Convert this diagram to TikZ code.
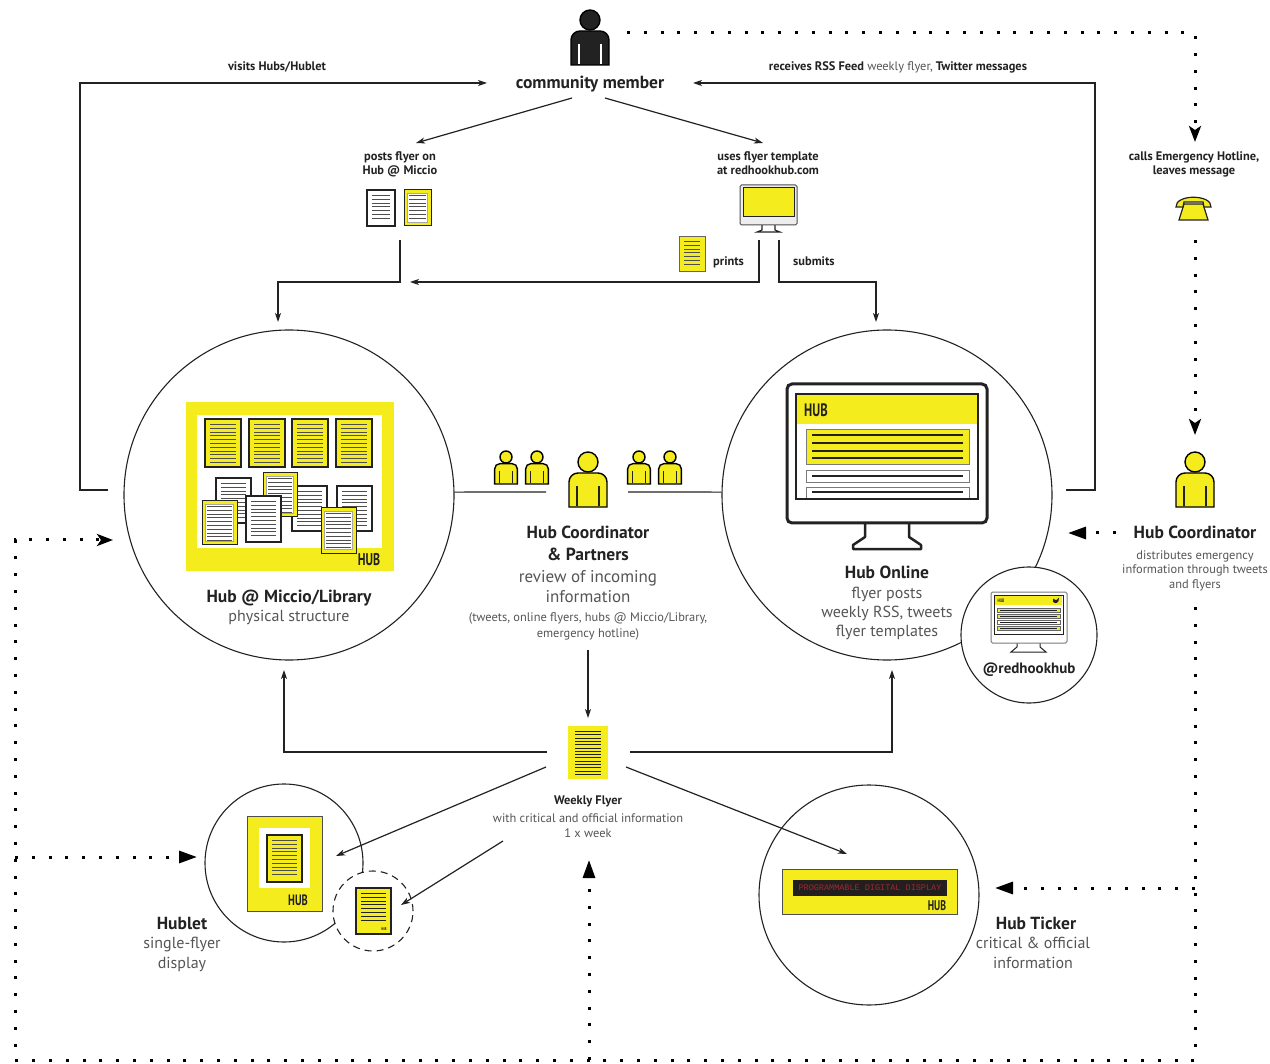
\documentclass[tikz,border=0pt]{standalone}
\usepackage{fontspec}
\setmainfont{PT Sans}
\setmonofont{Liberation Mono}
\newfontfamily\hubfont[FakeStretch=0.7]{PT Sans}
\usetikzlibrary{arrows.meta,calc}

\definecolor{hubyellow}{HTML}{F5EC1E}
\definecolor{ink}{HTML}{222222}
\definecolor{soft}{HTML}{555555}
\definecolor{lcdred}{HTML}{A02A2A}
\definecolor{lcdbg}{HTML}{231F20}

% text lines of a flyer
\newcommand{\flyerlines}[6]{%
  \pgfmathsetmacro{\fa}{#2+5.5}%
  \pgfmathsetmacro{\fb}{#2+9.3}%
  \pgfmathsetmacro{\fc}{#4-4}%
  \foreach \fy in {\fa,\fb,...,\fc}{\draw[#5,line width=#6] ({#1+5},\fy) -- ({#3-5},\fy);}%
}
% flyer with a plain frame: x1 y1 x2 y2 fill framewidth
\newcommand{\plainflyer}[6]{%
  \filldraw[fill=#5, draw=ink, line width=#6] (#1,#2) rectangle (#3,#4);
  \flyerlines{#1}{#2}{#3}{#4}{ink!80}{1pt}}
% flyer with a yellow margin round a white page
\newcommand{\framedflyer}[4]{%
  \filldraw[fill=hubyellow, draw=ink, line width=1pt] (#1,#2) rectangle (#3,#4);
  \filldraw[fill=white, draw=ink!40, line width=0.4pt] ({#1+3.5},{#2+3.5}) rectangle ({#3-3.5},{#4-3.5});
  \flyerlines{#1}{#2}{#3}{#4}{ink!80}{1pt}}

\tikzset{
  lbl/.style={inner sep=0pt, anchor=base, text=ink},
  headtxt/.style={lbl, font=\fontsize{17.5}{20}\selectfont\bfseries},
  subtxt/.style={lbl, text=soft, font=\fontsize{16}{19}\selectfont},
  notetxt/.style={lbl, text=soft, font=\fontsize{12.4}{14}\selectfont},
  cuetxt/.style={lbl, font=\fontsize{12.4}{14}\selectfont\bfseries},
  hubmark/.style={inner sep=0pt, text=ink, font=\hubfont\bfseries\fontsize{#1}{#1}\selectfont},
  hubcircle/.style={circle, draw=ink, line width=1.1pt, inner sep=0pt},
  flow/.style={draw=ink, line width=1.2pt, -{Stealth[length=9pt,width=6pt,inset=2.5pt]}},
  wire/.style={draw=ink, line width=1.2pt},
  dots/.style={draw=black, line width=3pt, dash pattern=on 3pt off 13.8pt},
  dothead/.style={-{Stealth[length=16pt,width=12pt,inset=4pt]}},
  dottri/.style={-{Triangle[length=18pt,width=12pt]}},
  pics/person/.style n args={2}{code={
    \draw[line width=1.4pt, fill=#1] (0,0) circle[radius=10];
    \draw[line width=1.4pt, fill=#1] (-19,45) -- (-19,20)
      .. controls (-19,15) and (-15,11) .. (-10,11) -- (10,11)
      .. controls (15,11) and (19,15) .. (19,20) -- (19,45) -- cycle;
    \draw[line width=1.2pt, draw=#2] (-11,24) -- (-11,44) (11,24) -- (11,44);
  }},
}

\begin{document}
\begin{tikzpicture}[x=1pt,y=-1pt]
\useasboundingbox[fill=white] (0,0) rectangle (1270,1064);

% ---------- main circles ----------
\node[hubcircle, minimum size=330pt] (miccio) at (289,495) {};
\node[hubcircle, minimum size=330pt] (online) at (887,495) {};
\node[hubcircle, minimum size=136pt, fill=white] (twitter) at (1029,635) {};
\node[hubcircle, minimum size=158pt] (hublet) at (284,863) {};
\node[hubcircle, dash pattern=on 7pt off 5pt, minimum size=80pt, fill=white] (mini) at (373,911) {};
\node[hubcircle, minimum size=220pt] (ticker) at (869,895) {};

% ---------- community member ----------
\pic at (590,20) {person={ink}{white}};
\node[headtxt] (member) at (590,89) {community member};

% ---------- posting a flyer ----------
\node[cuetxt] (posts1) at (400,161) {posts flyer on};
\node[cuetxt] (posts2) at (400,175) {Hub @ Miccio};
\plainflyer{367}{190}{395}{226}{white}{1.2pt}
\framedflyer{404}{190}{431}{226}

\node[cuetxt] (uses1) at (768,161) {uses flyer template};
\node[cuetxt] (uses2) at (768,175) {at redhookhub.com};
% desktop computer
\filldraw[fill=white, draw=ink, line width=1.1pt] (762,225) -- (762,230) -- (757,232) -- (780,232) -- (775,230) -- (775,225);
\filldraw[fill=ink!8, draw=ink!80, line width=1pt, rounded corners=1.5pt] (740,185) rectangle (797,225);
\filldraw[fill=hubyellow, draw=ink, line width=1pt] (743,188) rectangle (794,217);
% printed flyer
\filldraw[fill=hubyellow, draw=ink!70, line width=0.8pt] (679,236) rectangle (705,271);
\flyerlines{679}{236}{705}{271}{ink!80}{1pt}
\node[cuetxt, anchor=base west] (prints) at (713,266) {prints};
\node[cuetxt, anchor=base west] (submits) at (793,266) {submits};

% ---------- hotline ----------
\node[cuetxt] (calls1) at (1194,161) {calls Emergency Hotline,};
\node[cuetxt] (calls2) at (1194,175) {leaves message};
\filldraw[fill=hubyellow, draw=ink, line width=1.2pt] (1184,204) -- (1203,204) -- (1208,220) -- (1179,220) -- cycle;
\filldraw[fill=hubyellow, draw=ink, line width=1.2pt] (1176,207) .. controls (1175,194) and (1212,194) .. (1211,207) -- (1204,207) -- (1203,202) -- (1184,202) -- (1183,207) -- cycle;

% ---------- Hub @ Miccio/Library ----------
\fill[hubyellow] (186,402) rectangle (394,571);
\fill[white] (197,415) rectangle (382,548);
\plainflyer{205}{419}{241}{467}{hubyellow}{2.2pt}
\plainflyer{249}{419}{285}{467}{hubyellow}{2.2pt}
\plainflyer{292}{419}{328}{467}{hubyellow}{2.2pt}
\plainflyer{336}{419}{372}{467}{hubyellow}{2.2pt}
\plainflyer{216}{478}{251}{523}{white}{2pt}
\plainflyer{337}{486}{372}{531}{white}{2pt}
\plainflyer{292}{486}{327}{531}{white}{2pt}
\framedflyer{263}{473}{297}{517}
\plainflyer{246}{496}{281}{542}{white}{2pt}
\framedflyer{202}{501}{237}{545}
\framedflyer{321}{508}{356}{553}
\node[hubmark=17] (boardhub) at (369,560) {HUB};
\node[headtxt] (miccio1) at (289,602) {Hub @ Miccio/Library};
\node[subtxt] (miccio2) at (289,621) {physical structure};

% ---------- Hub Online ----------
\filldraw[fill=white, draw=ink, line width=2.5pt, line join=round] (865,522) -- (865,537) -- (853,545) -- (853,549) -- (921,549) -- (921,545) -- (909,537) -- (909,522);
\filldraw[fill=white, draw=ink, line width=3pt, rounded corners=5pt] (787,384) rectangle (987,523);
\filldraw[fill=white, draw=ink, line width=2pt] (796,394) rectangle (978,499);
\fill[hubyellow] (797,395) rectangle (977,424);
\node[hubmark=18] (screenhub) at (816,410) {HUB};
\filldraw[fill=hubyellow, draw=ink!60, line width=0.8pt] (806,429) rectangle (969,464);
\foreach \ly in {435,443,451,458}{\draw[ink, line width=2pt] (812,\ly) -- (963,\ly);}
\draw[ink!60, line width=0.8pt] (806,470) rectangle (969,482);
\draw[ink, line width=2pt] (812,476) -- (963,476);
\draw[ink!60, line width=0.8pt] (806,487) -- (806,498) (969,487) -- (969,498) (806,487) -- (969,487);
\draw[ink, line width=2pt] (812,492) -- (963,492);
\draw[ink, line width=2pt] (796,499) -- (978,499);
\node[headtxt] (online1) at (887,579) {Hub Online};
\node[subtxt] (online2) at (887,598) {flyer posts};
\node[subtxt] (online3) at (887,617) {weekly RSS, tweets};
\node[subtxt] (online4) at (887,636) {flyer templates};

% ---------- @redhookhub ----------
\filldraw[fill=white, draw=ink, line width=1pt] (1017,642) -- (1017,647) -- (1011,652) -- (1046,652) -- (1040,647) -- (1040,642);
\filldraw[fill=white, draw=ink!60, line width=1pt, rounded corners=1.5pt] (991,592) rectangle (1067,643);
\filldraw[fill=white, draw=ink, line width=0.9pt] (994,595) rectangle (1063,634);
\fill[hubyellow] (995,596) rectangle (1062,605);
\node[hubmark=5] (tinyhub) at (1001,600.5) {HUB};
\fill[ink] (1053,598.5) .. controls (1056,601) and (1058,600) .. (1059,597.5) -- (1058.5,601) .. controls (1057,604) and (1054,603.5) .. (1053,602) -- cycle;
\foreach \ry/\rc in {608/hubyellow,614/hubyellow,620/white,626/hubyellow}{
  \filldraw[fill=\rc, draw=ink!70, line width=0.5pt] (997,\ry) rectangle (1060,{\ry+4.5});
  \draw[ink, line width=0.9pt] (1000,{\ry+2.25}) -- (1057,{\ry+2.25});
}
\node[lbl, font=\fontsize{15}{18}\selectfont\bfseries] (handle) at (1029,673) {@redhookhub};

% ---------- Hub Coordinator & Partners ----------
\pic at (588,462) {person={hubyellow}{ink}};
\pic[scale=0.6] at (506,457) {person={hubyellow}{ink}};
\pic[scale=0.6] at (537,457) {person={hubyellow}{ink}};
\pic[scale=0.6] at (639,457) {person={hubyellow}{ink}};
\pic[scale=0.6] at (670,457) {person={hubyellow}{ink}};
\node[headtxt] (coord1) at (588,539) {Hub Coordinator};
\node[headtxt] (coord2) at (588,560) {\& Partners};
\node[lbl, text=soft, font=\fontsize{17}{20}\selectfont] (coord3) at (588,582) {review of incoming};
\node[lbl, text=soft, font=\fontsize{17}{20}\selectfont] (coord4) at (588,602) {information};
\node[notetxt] (coord5) at (588,621) {(tweets, online flyers, hubs @ Miccio/Library,};
\node[notetxt] (coord6) at (588,637) {emergency hotline)};

% ---------- Hub Coordinator (emergency) ----------
\pic at (1195,462) {person={hubyellow}{ink}};
\node[headtxt] (emerg1) at (1195,539) {Hub Coordinator};
\node[notetxt] (emerg2) at (1195,559) {distributes emergency};
\node[notetxt] (emerg3) at (1195,573.5) {information through tweets};
\node[notetxt] (emerg4) at (1195,588) {and flyers};

% ---------- Weekly Flyer ----------
\fill[hubyellow] (568,726) rectangle (608,779);
\foreach \ly in {731.5,734.8,...,775}{\draw[ink, line width=1pt] (575,\ly) -- (601,\ly);}
\node[cuetxt] (weekly1) at (588,804) {Weekly Flyer};
\node[notetxt] (weekly2) at (588,822) {with critical and official information};
\node[notetxt] (weekly3) at (588,837) {1 x week};

% ---------- Hublet ----------
\filldraw[fill=hubyellow, draw=ink!80, line width=1pt] (247,816) rectangle (322,911);
\fill[white] (259,828) rectangle (310,888);
\plainflyer{267}{835}{302}{882}{hubyellow}{2.5pt}
\node[hubmark=15] (hublethub) at (298,900) {HUB};
\filldraw[fill=hubyellow, draw=ink, line width=1.2pt] (356,888) rectangle (391,934);
\flyerlines{356}{888}{391}{926}{ink}{0.9pt}
\node[hubmark=4] (minihub) at (384,929.5) {HUB};
\node[headtxt] (hublet1) at (182,929) {Hublet};
\node[subtxt] (hublet2) at (182,948) {single-flyer};
\node[subtxt] (hublet3) at (182,968) {display};

% ---------- Hub Ticker ----------
\filldraw[fill=hubyellow, draw=ink!80, line width=1pt] (782,869) rectangle (957,914);
\fill[lcdbg] (793,880) rectangle (947,896);
\node[inner sep=0pt, text=lcdred, font=\fontsize{8.5}{9}\ttfamily] (lcd) at (870,888) {PROGRAMMABLE DIGITAL DISPLAY};
\node[hubmark=14] (tickerhub) at (937,906) {HUB};
\node[headtxt] (ticker1) at (1036,929) {Hub Ticker};
\node[subtxt] (ticker2) at (1033,948) {critical \& official};
\node[subtxt] (ticker3) at (1033,968) {information};

% ---------- top labels ----------
\node[cuetxt] (visits) at (277,71) {visits Hubs/Hublet};
\node[cuetxt] (receives) at (898,71) {receives RSS Feed \textmd{\color{soft}weekly flyer,} Twitter messages};

% ---------- connector end points ----------
\coordinate (visitsA) at (108,490);
\coordinate (visitsB) at (80,490);
\coordinate (visitsC) at (80,83);
\coordinate (visitsD) at (487,83);
\coordinate (recvA) at (1066,490);
\coordinate (recvB) at (1095,490);
\coordinate (recvC) at (1095,83);
\coordinate (recvD) at (693,83);
\coordinate (memberL) at (572,98);
\coordinate (memberR) at (605,98);
\coordinate (postsTip) at (416,143);
\coordinate (usesTip) at (763,143);
\coordinate (postsA) at (400,240);
\coordinate (postsB) at (400,282);
\coordinate (postsC) at (278,282);
\coordinate (postsD) at (278,322);
\coordinate (printA) at (759,240);
\coordinate (printB) at (759,282);
\coordinate (printC) at (410,282);
\coordinate (subA) at (779,240);
\coordinate (subB) at (779,282);
\coordinate (subC) at (876,282);
\coordinate (subD) at (876,322);
\coordinate (teamL) at (546,492);
\coordinate (teamR) at (628,492);
\coordinate (reviewOut) at (588,650);
\coordinate (flyerIn) at (588,718);
\coordinate (flyerL) at (547,752);
\coordinate (flyerLC) at (284,752);
\coordinate (flyerLT) at (284,670);
\coordinate (flyerR) at (630,752);
\coordinate (flyerRC) at (892,752);
\coordinate (flyerRT) at (892,670);
\coordinate (diagA) at (546,767);
\coordinate (diagAT) at (336,856);
\coordinate (diagB) at (503,841);
\coordinate (diagBT) at (401,905);
\coordinate (diagC) at (626,767);
\coordinate (diagCT) at (847,854);

% ---------- solid connectors ----------
\draw[flow] (visitsA) -- (visitsB) -- (visitsC) -- (visitsD);
\draw[flow] (recvA) -- (recvB) -- (recvC) -- (recvD);
\draw[flow] (memberL) -- (postsTip);
\draw[flow] (memberR) -- (usesTip);
\draw[flow] (postsA) -- (postsB) -- (postsC) -- (postsD);
\draw[flow] (printA) -- (printB) -- (printC);
\draw[flow] (subA) -- (subB) -- (subC) -- (subD);
\draw[wire] (miccio.1) -- (teamL);
\draw[wire] (teamR) -- (online.179);
\draw[flow] (reviewOut) -- (flyerIn);
\draw[flow] (flyerL) -- (flyerLC) -- (flyerLT);
\draw[flow] (flyerR) -- (flyerRC) -- (flyerRT);
\draw[flow] (diagA) -- (diagAT);
\draw[flow] (diagB) -- (diagBT);
\draw[flow] (diagC) -- (diagCT);

% ---------- dotted emergency routes ----------
\coordinate (hotA) at (627,33);
\coordinate (hotB) at (1195,33);
\coordinate (hotC) at (1195,142);
\coordinate (hotD) at (1195,240);
\coordinate (hotE) at (1195,435);
\coordinate (emA) at (1116,533);
\coordinate (emB) at (1068,533);
\coordinate (loopA) at (1195,607);
\coordinate (loopB) at (1195,1060);
\coordinate (loopC) at (15,1060);
\coordinate (loopD) at (15,540);
\coordinate (loopE) at (113,540);
\coordinate (hubletA) at (15,857);
\coordinate (hubletB) at (197,857);
\coordinate (tickA) at (1195,888);
\coordinate (tickB) at (995,888);
\coordinate (upA) at (589,1060);
\coordinate (upB) at (589,860);

\draw[dots, dothead] (hotA) -- (hotB) -- (hotC);
\draw[dots, dothead] (hotD) -- (hotE);
\draw[dots, dottri] (emA) -- (emB);
\draw[dots, dothead] (loopA) -- (loopB) -- (loopC) -- (loopD) -- (loopE);
\draw[dots, dottri] (hubletA) -- (hubletB);
\draw[dots, dottri] (tickA) -- (tickB);
\draw[dots, dottri] (upA) -- (upB);
\end{tikzpicture}
\end{document}
